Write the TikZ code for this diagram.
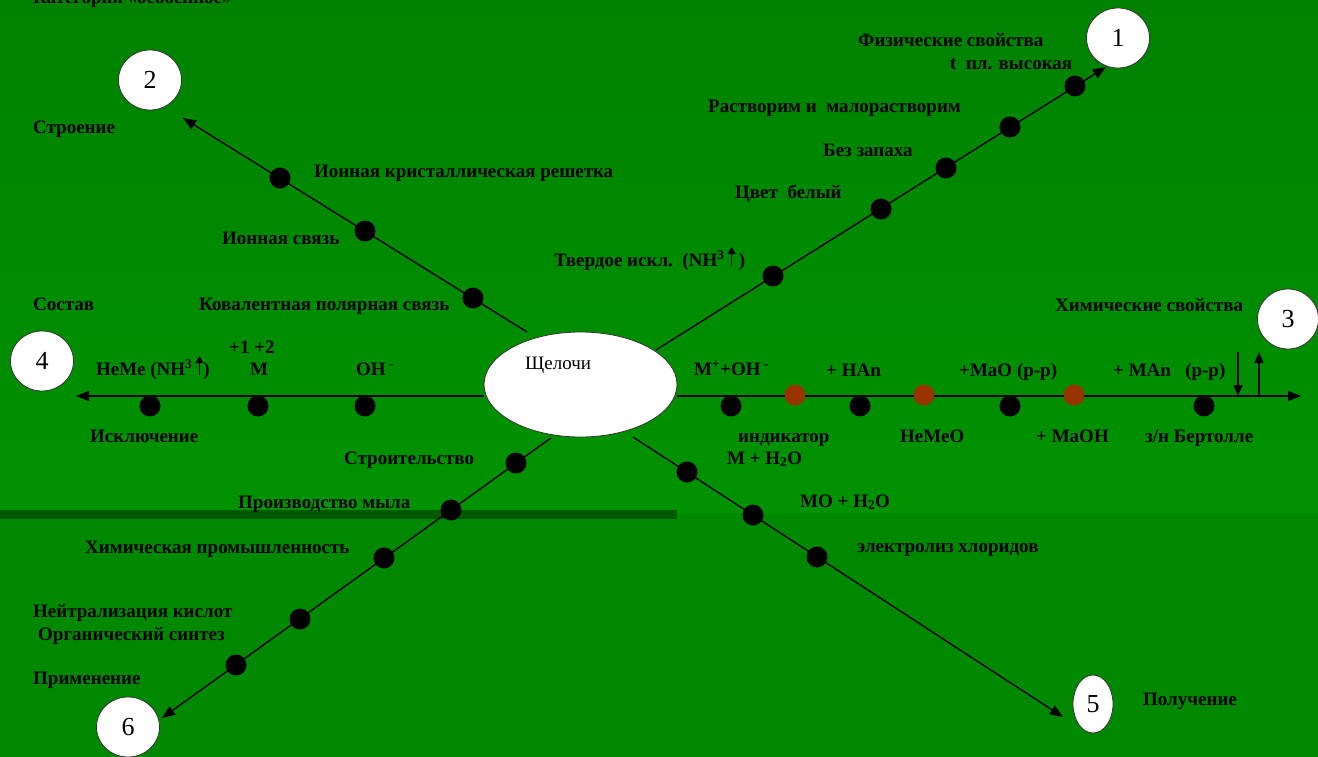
\documentclass[tikz,border=0pt]{standalone}
\usepackage{fontspec}
\setmainfont{Liberation Serif}
\usetikzlibrary{arrows.meta,shapes.geometric}
\definecolor{bgtop}{RGB}{0,130,0}
\definecolor{bgmid}{RGB}{0,146,0}
\definecolor{bgbot}{RGB}{0,136,0}
\definecolor{barcol}{RGB}{0,88,0}
\definecolor{dotbrown}{RGB}{153,51,0}
\newcommand\upar{\tikz[baseline=0pt,x=1pt,y=1pt]\draw[line width=1.1pt,-{Triangle[length=7pt,width=8pt]}](0,0)--(0,19);}
\begin{document}
\begin{tikzpicture}[x=1pt,y=-1pt,
  lbl/.style={font=\fontsize{19}{21}\selectfont\bfseries, inner sep=0pt, text=black, anchor=west, text height=12pt, text depth=4pt},
  num/.style={ellipse, draw=black!80, line width=0.8pt, fill=white, minimum width=63pt, minimum height=60pt, font=\fontsize{26}{28}\selectfont, inner sep=0pt},
  dot/.style={circle, fill=black, minimum size=21pt, inner sep=0pt},
  bdot/.style={circle, fill=dotbrown, minimum size=21pt, inner sep=0pt},
  axis/.style={line width=1.4pt, -{Triangle[length=13pt,width=10pt]}},
  small/.style={line width=1.4pt, -{Triangle[length=11pt,width=9pt]}}]
\useasboundingbox (0,0) rectangle (1318,757);
% background
\shade[top color=bgtop, bottom color=bgmid] (0,0) rectangle (1318,513);
\fill[bgbot] (0,513) rectangle (1318,757);
\fill[barcol] (0,510) rectangle (677,519);

% connector end points
\coordinate (s1) at (656,350); \coordinate (t1) at (1106,67);
\coordinate (s2) at (527,332); \coordinate (t2) at (183,118);
\coordinate (s3) at (677,396); \coordinate (t3) at (1301,396);
\coordinate (s4) at (484,396); \coordinate (t4) at (76,396);
\coordinate (s5) at (633,437); \coordinate (t5) at (1063,717);
\coordinate (s6) at (551,438); \coordinate (t6) at (162,718);

\draw[axis] (s1) -- (t1);
\draw[axis] (s2) -- (t2);
\draw[axis] (s3) -- (t3);
\draw[axis] (s4) -- (t4);
\draw[axis] (s5) -- (t5);
\draw[axis] (s6) -- (t6);

% small arrows on the right axis
\coordinate (da) at (1238,352); \coordinate (db) at (1238,396);
\coordinate (ua) at (1259,396); \coordinate (ub) at (1259,352);
\draw[small] (da) -- (db);
\draw[small] (ua) -- (ub);

% central ellipse
\node[ellipse, draw=black!80, line width=0.8pt, fill=white, minimum width=193pt, minimum height=105pt] (c) at (580.5,384.5) {};
\node[font=\fontsize{19}{21}\selectfont, anchor=west, inner sep=0pt] (ct) at (525,365) {Щелочи};

% numbered circles
\node[num] (n1) at (1118,38) {1};
\node[num] (n2) at (150,80) {2};
\node[num, minimum width=61pt] (n3) at (1288,319) {3};
\node[num] (n4) at (42,361) {4};
\node[num, minimum width=40pt, minimum height=58pt] (n5) at (1093,704) {5};
\node[num] (n6) at (128,727) {6};

% dots, line 1
\node[dot] (a1) at (773,276) {};
\node[dot] (a2) at (881,209) {};
\node[dot] (a3) at (946,168) {};
\node[dot] (a4) at (1010,127) {};
\node[dot] (a5) at (1075,86) {};
% line 2
\node[dot] (b1) at (280,178) {};
\node[dot] (b2) at (365,231) {};
\node[dot] (b3) at (473,298) {};
% line 3
\node[dot] (r1) at (731,406) {};
\node[bdot] (r2) at (795,395) {};
\node[dot] (r3) at (860,406) {};
\node[bdot] (r4) at (924,395) {};
\node[dot] (r5) at (1010,406) {};
\node[bdot] (r6) at (1074,395) {};
\node[dot] (r7) at (1204,406) {};
% line 4
\node[dot] (l1) at (150,406) {};
\node[dot] (l2) at (258,406) {};
\node[dot] (l3) at (365,406) {};
% line 5
\node[dot] (e1) at (687,472) {};
\node[dot] (e2) at (753,515) {};
\node[dot] (e3) at (817,557) {};
% line 6
\node[dot] (f1) at (516,463) {};
\node[dot] (f2) at (451,510) {};
\node[dot] (f3) at (384,558) {};
\node[dot] (f4) at (300,619) {};
\node[dot] (f5) at (236,665) {};

% labels
\node[lbl] (x0) at (33,0) {Категория «особенное»};
\node[lbl] (x1) at (33,130) {Строение};
\node[lbl] (x2) at (314,174) {Ионная кристаллическая решетка};
\node[lbl] (x3) at (222,240) {Ионная связь};
\node[lbl] (x4) at (199,306) {Ковалентная полярная связь};
\node[lbl] (x5) at (33,306) {Состав};
\node[lbl] (x6) at (96,371) {НеМе (NH\textsuperscript{3}\,\upar)};
\node[lbl] (x7) at (229,349) {+1 +2};
\node[lbl] (x8) at (250,371) {M};
\node[lbl] (x9) at (356,371) {OH\textsuperscript{ -}};
\node[lbl] (x10) at (90,438) {Исключение};
\node[lbl] (x11) at (344,460) {Строительство};
\node[lbl] (x12) at (238,504) {Производство мыла};
\node[lbl] (x13) at (85,549) {Химическая промышленность};
\node[lbl] (x14) at (33,613) {Нейтрализация кислот};
\node[lbl] (x15) at (38,636) {Органический синтез};
\node[lbl] (x16) at (33,680) {Применение};
\node[lbl] (y1) at (554,262) {Твердое искл.\ \ (NH\textsuperscript{3}\,\upar\,)};
\node[lbl] (y2) at (735,195) {Цвет\ \ белый};
\node[lbl] (y3) at (823,153) {Без запаха};
\node[lbl] (y4) at (708,109) {Растворим и\ \ малорастворим};
\node[lbl] (y5) at (858,43) {Физические свойства};
\node[lbl] (y6) at (950,66) {t\ \ пл. высокая};
\node[lbl] (z1) at (1055,307) {Химические свойства};
\node[lbl] (z2) at (694,371) {M\textsuperscript{+}+OH\textsuperscript{ -}};
\node[lbl] (z3) at (826,372) {+ HAn};
\node[lbl] (z4) at (959,372) {+MaO (р-р)};
\node[lbl] (z5) at (1113,372) {+ MAn\ \ \ (р-р)};
\node[lbl] (z6) at (738,438) {индикатор};
\node[lbl] (z7) at (727,460) {M + H\textsubscript{2}O};
\node[lbl] (z8) at (900,438) {НеМеО};
\node[lbl] (z9) at (1036,438) {+ MaOH};
\node[lbl] (z10) at (1145,438) {з/н Бертолле};
\node[lbl] (w1) at (800,503) {MO + H\textsubscript{2}O};
\node[lbl] (w2) at (857,548) {электролиз хлоридов};
\node[lbl] (w3) at (1143,701) {Получение};
\end{tikzpicture}
\end{document}
